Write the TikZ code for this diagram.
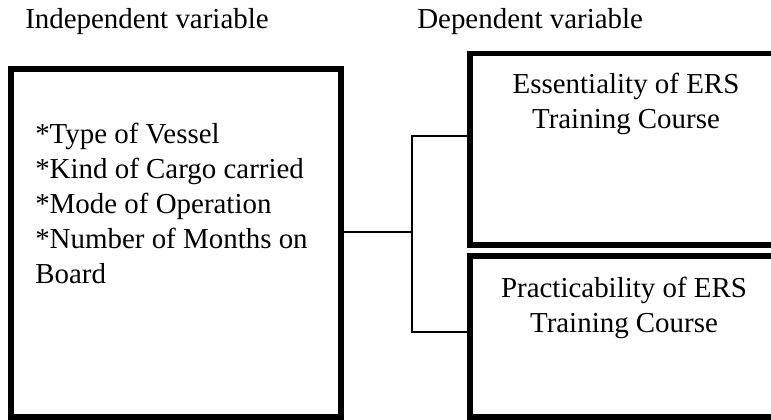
\documentclass[tikz,border=0pt]{standalone}
\usepackage{fontspec}
\setmainfont{Liberation Serif}
\usetikzlibrary{positioning, calc}

\begin{document}
\begin{tikzpicture}[x=0.75pt, y=-0.75pt]
	% styles for boxes, links and texts
	\tikzset{
		varbox/.style = {
			rectangle, draw, line width=4.1pt,
			inner sep=0pt
		},
		link/.style = {line width=1.1pt},
		varlabel/.style = {
			inner sep=0pt, align=left,
			font=\fontsize{21.7}{26.25}\selectfont
		}
	}
	\useasboundingbox (0,0) rectangle (771,419);
	
	% column titles
	\node[varlabel, anchor=base west] (indeptitle) at (25,28) {Independent variable};
	\node[varlabel, anchor=base west] (deptitle) at (417,28) {Dependent variable};
	
	% independent variable box (base = last line)
	\node[varbox, minimum width=247.5pt, minimum height=261pt] (indep) at (176,243) {};
	\node[varlabel, anchor=base west] (indeplist) at (35,283)
		{*Type of Vessel\\*Kind of Cargo carried\\*Mode of Operation\\*Number of Months on\\Board};
	
	% dependent variable boxes
	\node[varbox, minimum width=240pt, minimum height=143.6pt] (ess) at (630,149.25) {};
	\node[varbox, minimum width=240pt, minimum height=120.75pt] (prac) at (630,336.5) {};
	\node[varlabel, align=center, anchor=base] (esstext) at (626,128) {Essentiality of ERS\\Training Course};
	\node[varlabel, align=center, anchor=base] (practext) at (624,332) {Practicability of ERS\\Training Course};
	
	% links between the boxes
	\coordinate (junction) at (412,232);
	\coordinate (jtop) at (412,136);
	\coordinate (jbot) at (412,332);
	\draw[link] (indep.east |- junction) -- (junction);
	\draw[link] (jtop -| ess.west) -- (jtop) -- (jbot) -- (jbot -| prac.west);
\end{tikzpicture}
\end{document}
